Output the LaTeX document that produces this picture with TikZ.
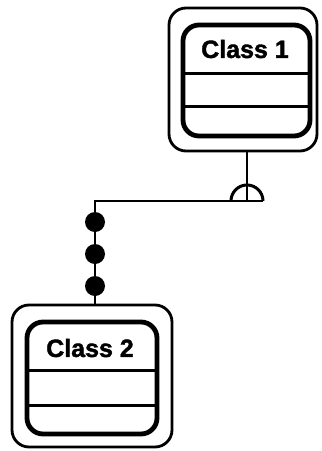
\documentclass[tikz,border=0pt]{standalone}
\usepackage{fontspec}
\setmainfont{Liberation Sans}
\newfontfamily\heavyfont{Liberation Sans Bold}[FakeBold=1.6]
\begin{document}
\begin{tikzpicture}[x=1pt,y=-1pt,
  outerbox/.style={draw, line width=2.8pt, rounded corners=17pt, inner sep=0pt},
  innerbox/.style={draw, line width=4.8pt, rounded corners=16pt, inner sep=0pt},
  sepline/.style={line width=3pt},
  conn/.style={line width=2.4pt},
  dotmark/.style={circle, fill=black, minimum size=20pt, inner sep=0pt},
  classname/.style={font=\heavyfont\fontsize{25}{28}\selectfont, inner sep=0pt}]
\useasboundingbox (0,0) rectangle (322,451);
% Class 1
\node[outerbox, minimum width=148pt, minimum height=143pt] (c1out) at (243,79.5) {};
\node[innerbox, minimum width=127pt, minimum height=111pt] (c1in) at (246.5,80.5) {};
\node[classname] (c1name) at (245,49) {Class 1};
\draw[sepline] (c1in.west |- 0,73) -- (c1in.east |- 0,73);
\draw[sepline] (c1in.west |- 0,106) -- (c1in.east |- 0,106);
% Class 2
\node[outerbox, minimum width=160pt, minimum height=142pt] (c2out) at (92,376) {};
\node[innerbox, minimum width=130pt, minimum height=112pt] (c2in) at (92,378) {};
\node[classname] (c2name) at (90,348) {Class 2};
\draw[sepline] (c2in.west |- 0,370) -- (c2in.east |- 0,370);
\draw[sepline] (c2in.west |- 0,405) -- (c2in.east |- 0,405);
% connector
\coordinate (j) at (247,201);
\coordinate (k) at (95,201);
\draw[conn] (j |- c1out.south) -- (j);
\draw[conn] (c2out.north -| k) -- (k) -- ([xshift=16pt]j);
\draw[conn, line width=3pt] ([xshift=16pt]j) arc[start angle=0, end angle=180, radius=16pt];
\node[dotmark] (d1) at (95,222) {};
\node[dotmark] (d2) at (95,254) {};
\node[dotmark] (d3) at (95,286) {};
\end{tikzpicture}
\end{document}
